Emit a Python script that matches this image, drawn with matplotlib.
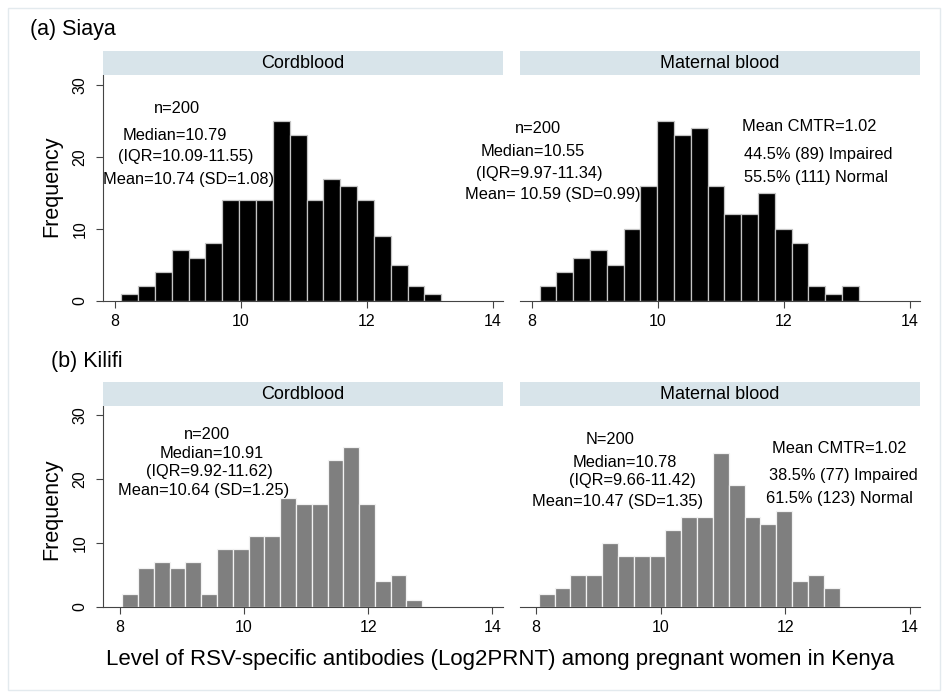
import numpy as np
import matplotlib
matplotlib.use("Agg")
import matplotlib.pyplot as plt
from matplotlib.patches import Rectangle

plt.rcParams['font.family'] = ['Liberation Sans', 'DejaVu Sans']

# bar counts, 19 bins per panel
siaya_cord = [1, 2, 4, 7, 6, 8, 14, 14, 14, 25, 23, 14, 17, 16, 14, 9, 5, 2, 1]
siaya_maternal = [2, 4, 6, 7, 5, 10, 16, 25, 23, 24, 16, 12, 12, 15, 10, 8, 2, 1, 2]
kilifi_cord = [2, 6, 7, 6, 7, 2, 9, 9, 11, 11, 17, 16, 16, 23, 25, 16, 4, 5, 1]
kilifi_maternal = [2, 3, 5, 5, 10, 8, 8, 8, 12, 14, 14, 24, 19, 14, 13, 15, 4, 5, 3]

# lowest and highest bin edge of each histogram
siaya_cord_range = (8.10, 13.18)
siaya_maternal_range = (8.12, 13.19)
kilifi_cord_range = (8.04, 12.87)
kilifi_maternal_range = (8.04, 12.87)

siaya_cord_text = ["n=200", "Median=10.79", "(IQR=10.09-11.55)", "Mean=10.74 (SD=1.08)"]
siaya_maternal_text = ["n=200", "Median=10.55", "(IQR=9.97-11.34)", "Mean= 10.59 (SD=0.99)"]
siaya_cmtr_text = ["Mean CMTR=1.02", "44.5% (89) Impaired", "55.5% (111) Normal"]
kilifi_cord_text = ["n=200", "Median=10.91", "(IQR=9.92-11.62)", "Mean=10.64 (SD=1.25)"]
kilifi_maternal_text = ["N=200", "Median=10.78", "(IQR=9.66-11.42)", "Mean=10.47 (SD=1.35)"]
kilifi_cmtr_text = ["Mean CMTR=1.02", "38.5% (77) Impaired", "61.5% (123) Normal"]

panel_titles = ["Cordblood", "Maternal blood"]
xticks = [8, 10, 12, 14]
yticks = [0, 10, 20, 30]

W, H = 948, 698
fig = plt.figure(figsize=(W / 100, H / 100), dpi=100)


def px_axes(x0, y0, x1, y1, **kw):
    return fig.add_axes([x0 / W, 1 - y1 / H, (x1 - x0) / W, (y1 - y0) / H], **kw)


# faint outer frame
fig.patches.append(Rectangle((8 / W, 8 / H), 932 / W, 682 / H, transform=fig.transFigure,
                             fill=False, edgecolor='#e3eaee', linewidth=1))


def draw_panel(ax, counts, rng, face, edge, xlim, left):
    edges = np.linspace(rng[0], rng[1], len(counts) + 1)
    ax.bar(edges[:-1], counts, width=np.diff(edges), align='edge',
           color=face, edgecolor=edge, linewidth=0.9)
    ax.set_xlim(*xlim)
    ax.set_ylim(0, 31.4)
    ax.set_xticks(xticks)
    ax.set_yticks(yticks)
    for s in ['top', 'right']:
        ax.spines[s].set_visible(False)
    ax.spines['bottom'].set_color('#444444')
    ax.spines['left'].set_color('#444444')
    ax.tick_params(axis='x', direction='out', length=5, width=0.8, color='#444444',
                   labelsize=11.5, pad=4.5)
    if left:
        ax.tick_params(axis='y', direction='out', length=5, width=0.8, color='#444444',
                       labelsize=11.5, labelrotation=90, pad=6)
        for lab in ax.get_yticklabels():
            lab.set_va('center')
    else:
        ax.spines['left'].set_visible(False)
        ax.tick_params(axis='y', left=False, labelleft=False)


def add_block(ax, lines, xs, ys, ha='center', size=11.8):
    for t, x, y in zip(lines, xs, ys):
        ax.text(x, y, t, ha=ha, va='center', fontsize=size)


def strip(x0, x1, y0, y1, label):
    s = px_axes(x0, y0, x1, y1)
    s.set_facecolor('#d8e4ea')
    s.set_xticks([])
    s.set_yticks([])
    for sp in s.spines.values():
        sp.set_visible(False)
    s.text(0.5, 0.5, label, ha='center', va='center', fontsize=13, transform=s.transAxes)


# (a) Siaya
ax1 = px_axes(103, 75, 503, 300.7)
draw_panel(ax1, siaya_cord, siaya_cord_range, 'black', '#c4c4c4', (7.81, 14.16), True)
add_block(ax1, siaya_cord_text, [8.99, 8.95, 9.13, 9.16], [26.7, 23.0, 20.0, 16.9])

ax2 = px_axes(520, 75, 920, 300.7)
draw_panel(ax2, siaya_maternal, siaya_maternal_range, 'black', '#c4c4c4', (7.81, 14.16), False)
add_block(ax2, siaya_maternal_text, [8.09, 8.01, 8.11, 8.33], [24.0, 20.75, 17.65, 14.8])
add_block(ax2, siaya_cmtr_text, [11.33, 11.37, 11.37], [24.3, 20.4, 17.2], ha='left')

strip(103, 503, 51, 75, panel_titles[0])
strip(520, 920, 51, 75, panel_titles[1])

# (b) Kilifi
ax3 = px_axes(103, 406, 503, 606.7)
draw_panel(ax3, kilifi_cord, kilifi_cord_range, '#7f7f7f', '#f2f2f2', (7.73, 14.17), True)
add_block(ax3, kilifi_cord_text, [9.40, 9.48, 9.45, 9.35], [26.9, 24.0, 21.1, 18.2])

ax4 = px_axes(520, 406, 920, 606.7)
draw_panel(ax4, kilifi_maternal, kilifi_maternal_range, '#7f7f7f', '#f2f2f2', (7.74, 14.16), False)
add_block(ax4, kilifi_maternal_text, [9.19, 9.42, 9.55, 9.31], [26.2, 22.6, 19.8, 16.4])
add_block(ax4, kilifi_cmtr_text, [11.78, 11.74, 11.69], [24.8, 20.45, 16.9], ha='left')

strip(103, 503, 382.3, 406, panel_titles[0])
strip(520, 920, 382.3, 406, panel_titles[1])

# titles and shared labels
fig.text(30 / W, 1 - 29 / H, "(a) Siaya", ha='left', va='center', fontsize=15.5)
fig.text(51 / W, 1 - 361.5 / H, "(b) Kilifi", ha='left', va='center', fontsize=15.5)
fig.text(52 / W, 1 - 186 / H, "Frequency", rotation=90, ha='center', va='center', fontsize=15.5)
fig.text(52 / W, 1 - 509 / H, "Frequency", rotation=90, ha='center', va='center', fontsize=15.5)
fig.text(500 / W, 1 - 660 / H,
         "Level of RSV-specific antibodies (Log2PRNT) among pregnant women in Kenya",
         ha='center', va='center', fontsize=16)

fig.savefig("out.png", dpi=100)
